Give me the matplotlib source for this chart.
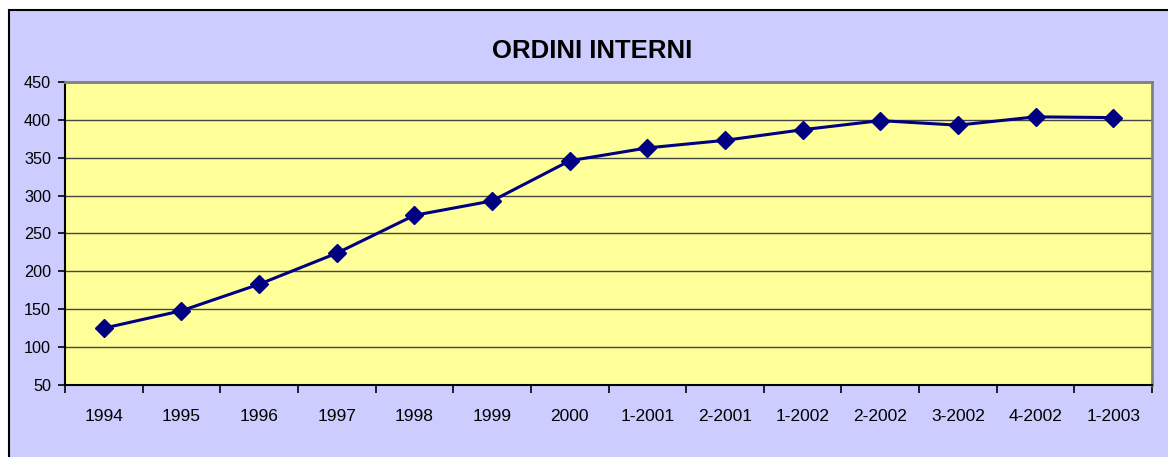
import matplotlib.pyplot as plt
from matplotlib.patches import Rectangle
from matplotlib.ticker import FixedLocator, NullFormatter

plt.rcParams['font.family'] = ['Liberation Sans', 'DejaVu Sans']

periods = ['1994', '1995', '1996', '1997', '1998', '1999', '2000',
           '1-2001', '2-2001', '1-2002', '2-2002', '3-2002', '4-2002', '1-2003']
orders = [125, 148, 183, 224, 274, 293, 346, 363, 373, 387, 399, 393, 404, 403]

fig = plt.figure(figsize=(11.68, 4.57), dpi=100)
fig.patch.set_facecolor('white')

# lavender chart area with black frame on left/top
fig.patches.append(Rectangle((8.5 / 1168, -0.05), 1.1, (457 - 9.5) / 457 + 0.05,
                             transform=fig.transFigure, facecolor='#CCCCFF',
                             edgecolor='black', linewidth=1.5, zorder=-1))

ax = fig.add_axes([65 / 1168, (457 - 385) / 457, (1152 - 65) / 1168, (385 - 82) / 457])
ax.set_facecolor('#FFFF99')

x = range(len(periods))
ax.plot(x, orders, color='#000080', linewidth=2.2, marker='D', markersize=9,
        zorder=3, clip_on=False)

ax.set_xlim(-0.5, len(periods) - 0.5)
ax.set_ylim(50, 450)
ax.set_yticks(range(50, 451, 50))
ax.yaxis.grid(True, color='#444444', linewidth=1)
ax.set_axisbelow(True)

ax.set_xticks(list(x))
ax.set_xticklabels(periods)
ax.xaxis.set_minor_locator(FixedLocator([i - 0.5 for i in range(len(periods) + 1)]))
ax.xaxis.set_minor_formatter(NullFormatter())
ax.tick_params(axis='x', which='major', length=0, pad=17, labelsize=12.5)
ax.tick_params(axis='x', which='minor', length=6, width=1.2, direction='out')
ax.tick_params(axis='y', length=5, width=1.2, direction='out', pad=5, labelsize=11.7)

for side in ('left', 'bottom'):
    ax.spines[side].set_color('black')
    ax.spines[side].set_linewidth(1.5)
for side in ('top', 'right'):
    ax.spines[side].set_color('#808080')
    ax.spines[side].set_linewidth(2)

fig.text(0.507, 0.888, 'ORDINI INTERNI', ha='center', va='center',
         fontsize=18.5, fontweight='bold')

fig.savefig('out.png', dpi=100, facecolor=fig.get_facecolor())
